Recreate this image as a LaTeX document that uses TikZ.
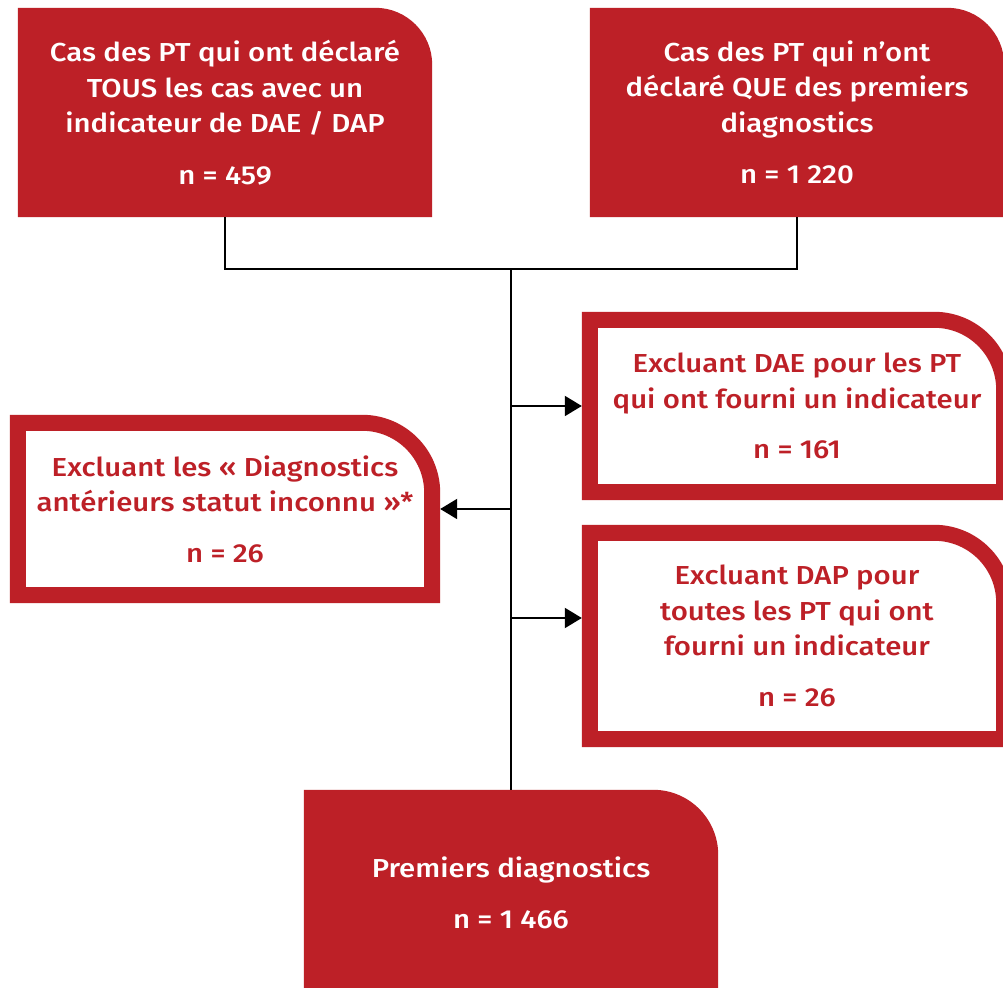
\documentclass[tikz,border=0pt]{standalone}
\usepackage{fontspec}
\setmainfont{Fira Sans}[UprightFont={* Medium}, FakeStretch=1.13]
\usetikzlibrary{arrows.meta,backgrounds}
\definecolor{boxred}{RGB}{189,32,39}
\newcommand\filledshape[2]{\fill[boxred] (#1.south west) -- (#1.north west) -- ([xshift=-#2]#1.north east) arc[start angle=90,end angle=0,radius=#2] -- (#1.south east) -- cycle;}
\newcommand\borderedshape[2]{\draw[boxred,line width=16pt] ([shift={(8pt,8pt)}]#1.south west) -- ([shift={(8pt,-8pt)}]#1.north west) -- ([shift={(-8pt-#2,-8pt)}]#1.north east) arc[start angle=90,end angle=0,radius=#2] -- ([shift={(-8pt,8pt)}]#1.south east) -- cycle;}
\begin{document}
\begin{tikzpicture}[x=1pt,y=1pt,
  box/.style={rectangle, inner sep=0pt, align=center, font=\fontsize{26}{35.5}\selectfont},
  solidbox/.style={box, text=white},
  linebox/.style={box, text=boxred},
  conn/.style={line width=2pt, black},
  arr/.style={conn, -{Triangle[length=17pt,width=20pt]}}]
\useasboundingbox (0,0) rectangle (1003,987);
\node[solidbox, minimum width=414pt, minimum height=209pt] (a) at (225,874.5)
  {Cas des PT qui ont déclaré\\TOUS les cas avec un\\indicateur de DAE / DAP\\[16pt]n = 459};
\node[solidbox, minimum width=414pt, minimum height=209pt] (b) at (797,874.5)
  {Cas des PT qui n’ont\\déclaré QUE des premiers\\diagnostics\\[16pt]n = 1 220};
\node[linebox, minimum width=430pt, minimum height=188pt] (c) at (797,581)
  {Excluant DAE pour les PT\\qui ont fourni un indicateur\\[15pt]n = 161};
\node[linebox, minimum width=430pt, minimum height=188pt] (d) at (225,478)
  {Excluant les « Diagnostics\\antérieurs statut inconnu »*\\[15pt]n = 26};
\node[linebox, minimum width=430pt, minimum height=222pt] (e) at (797,351)
  {Excluant DAP pour\\toutes les PT qui ont\\fourni un indicateur\\[15pt]n = 26};
\node[solidbox, minimum width=414pt, minimum height=206pt] (f) at (511,94)
  {Premiers diagnostics\\[15pt]n = 1 466};
\begin{scope}[on background layer]
  \fill[white] (0,0) rectangle (1003,987);
  \filledshape{a}{57pt}
  \filledshape{b}{57pt}
  \filledshape{f}{65pt}
  \borderedshape{c}{70pt}
  \borderedshape{d}{70pt}
  \borderedshape{e}{70pt}
\end{scope}
\coordinate (j) at (f.north |- 0,718);
\coordinate (ein) at ([yshift=18pt]e.west);
\draw[conn] (a.south) |- (j) -| (b.south);
\draw[conn] (j) -- (f.north);
\draw[arr] (c.west -| j) -- (c.west);
\draw[arr] (d.east -| j) -- (d.east);
\draw[arr] (ein -| j) -- (ein);
\end{tikzpicture}
\end{document}
